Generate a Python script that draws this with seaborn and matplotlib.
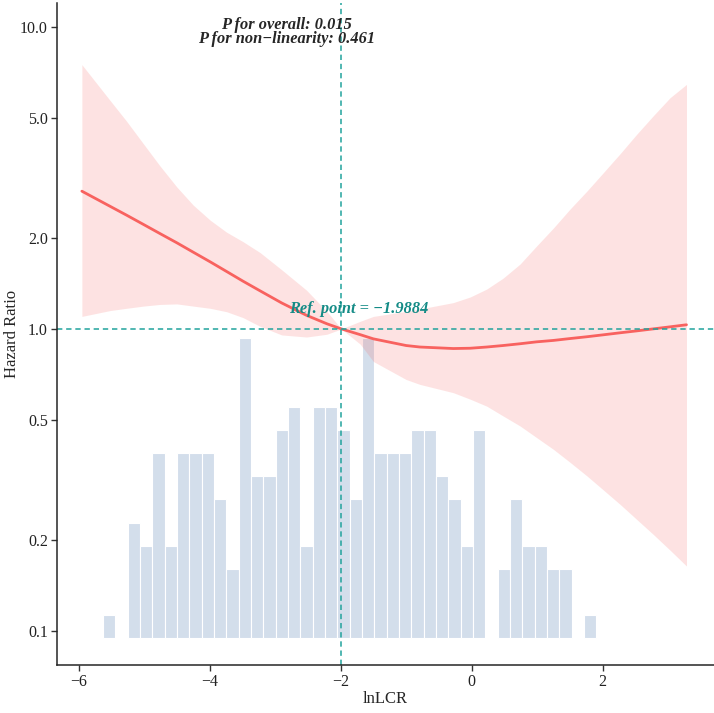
import numpy as np
import pandas as pd
import seaborn as sns
import matplotlib
matplotlib.use("Agg")
import matplotlib.pyplot as plt
from matplotlib.ticker import FixedLocator, FixedFormatter, NullLocator

sns.set_style("ticks")
plt.rcParams['font.family'] = ['Liberation Serif', 'DejaVu Serif']

# RCS estimates (HR with 95% CI)
x_pts = [-5.95, -5.52, -5.27, -5.01, -4.76, -4.5, -4.25, -3.99, -3.74, -3.49,
         -3.23, -2.9, -2.52, -2.21, -1.9884, -1.7, -1.5, -1.0, -0.79, -0.28,
         -0.02, 0.23, 0.48, 0.74, 0.99, 1.25, 1.5, 1.76, 2.01, 2.27,
         2.52, 2.77, 3.03, 3.28]
hr = [2.858, 2.547, 2.382, 2.218, 2.070, 1.928, 1.795, 1.667, 1.549, 1.439,
      1.337, 1.219, 1.109, 1.040, 1.00, 0.957, 0.927, 0.881, 0.871, 0.861,
      0.863, 0.871, 0.881, 0.893, 0.906, 0.916, 0.929, 0.942, 0.956, 0.971,
      0.985, 1.00, 1.016, 1.032]
hr_lo = [1.10, 1.15, 1.17, 1.19, 1.205, 1.21, 1.19, 1.17, 1.14, 1.09,
         1.02, 0.955, 0.94, 0.96, 1.00, 0.89, 0.78, 0.68, 0.655, 0.615,
         0.585, 0.555, 0.515, 0.477, 0.437, 0.399, 0.362, 0.326, 0.293, 0.262,
         0.234, 0.209, 0.185, 0.164]
hr_hi = [7.50, 5.71, 4.88, 4.10, 3.47, 2.95, 2.57, 2.29, 2.09, 1.945,
         1.79, 1.57, 1.343, 1.143, 1.00, 1.06, 1.10, 1.143, 1.164, 1.222,
         1.276, 1.355, 1.472, 1.64, 1.88, 2.16, 2.49, 2.86, 3.29, 3.81,
         4.41, 5.07, 5.83, 6.45]

# distribution of lnLCR (histogram counts)
hist_start = -5.63
hist_width = 0.1883
hist_counts = [1, 0, 5, 4, 8, 4, 8, 8, 8, 6, 3, 13, 7, 7, 9, 10, 4, 10, 10, 9,
               6, 13, 8, 8, 8, 9, 9, 7, 6, 4, 9, 0, 3, 6, 4, 4, 3, 3, 0, 1]

ref_x = -1.9884
p_overall = "0.015"
p_nonlin = "0.461"

y_ticks = [0.1, 0.2, 0.5, 1.0, 2.0, 5.0, 10.0]
y_labels = ["0.1", "0.2", "0.5", "1.0", "2.0", "5.0", "10.0"]
x_ticks = [-6, -4, -2, 0, 2]

line_col = "#F8625F"
teal = "#21A39C"
teal_txt = "#148B86"
bar_col = "#7094C0"

fig = plt.figure(figsize=(7.14, 7.13), dpi=100)
ax = fig.add_axes([0.0798, 0.0673, 0.9202, 0.9285])
ax2 = ax.twinx()
ax.set_zorder(ax2.get_zorder() + 1)
ax.patch.set_visible(False)

edges = hist_start + hist_width * np.arange(len(hist_counts) + 1)
hist_df = pd.DataFrame({"mid": edges[:-1] + hist_width / 2, "n": hist_counts})
sns.histplot(data=hist_df, x="mid", weights="n", bins=list(edges), ax=ax2,
             color=bar_col, alpha=0.3, edgecolor="white", linewidth=0.8)
ax2.set_ylim(-1.17, 27.5)
ax2.set_yticks([])
ax2.set_ylabel("")
for s in ax2.spines.values():
    s.set_visible(False)

ax.fill_between(x_pts, hr_lo, hr_hi, color=line_col, alpha=0.18, lw=0)
sns.lineplot(x=x_pts, y=hr, ax=ax, color=line_col, lw=2.0)
ax.axhline(1.0, color=teal, lw=1.1, dashes=(3.5, 2.5))
ax.axvline(ref_x, color=teal, lw=1.1, dashes=(3.5, 2.5))

ax.set_yscale("log")
ax.set_ylim(0.0771, 12.0)
ax.set_xlim(-6.33, 3.70)
ax.yaxis.set_major_locator(FixedLocator(y_ticks))
ax.yaxis.set_major_formatter(FixedFormatter(y_labels))
ax.yaxis.set_minor_locator(NullLocator())
ax.set_xticks(x_ticks)
ax.set_xticklabels([f"{t}".replace("-", "\u2212") for t in x_ticks])

ax.spines["top"].set_visible(False)
ax.spines["right"].set_visible(False)
for s in ["left", "bottom"]:
    ax.spines[s].set_linewidth(1.1)
ax.tick_params(direction="out", length=4, width=1, color="#333333", pad=2.5,
               labelsize=11.5, labelcolor="#222222")

ax.set_xlabel("lnLCR", fontsize=12, labelpad=1)
ax.set_ylabel("Hazard Ratio", fontsize=12, labelpad=0)

ax.text(-2.82, 9.6, f"P for overall: {p_overall}\nP for non\u2212linearity: {p_nonlin}",
        ha="center", va="center", fontsize=11.8, fontweight="bold",
        fontstyle="italic", linespacing=0.8)
ax.text(-1.727, 1.16, f"Ref. point = \u22121.9884", ha="center", va="center",
        fontsize=11.8, fontweight="bold", fontstyle="italic", color=teal_txt)

fig.savefig("out.png", dpi=100)
